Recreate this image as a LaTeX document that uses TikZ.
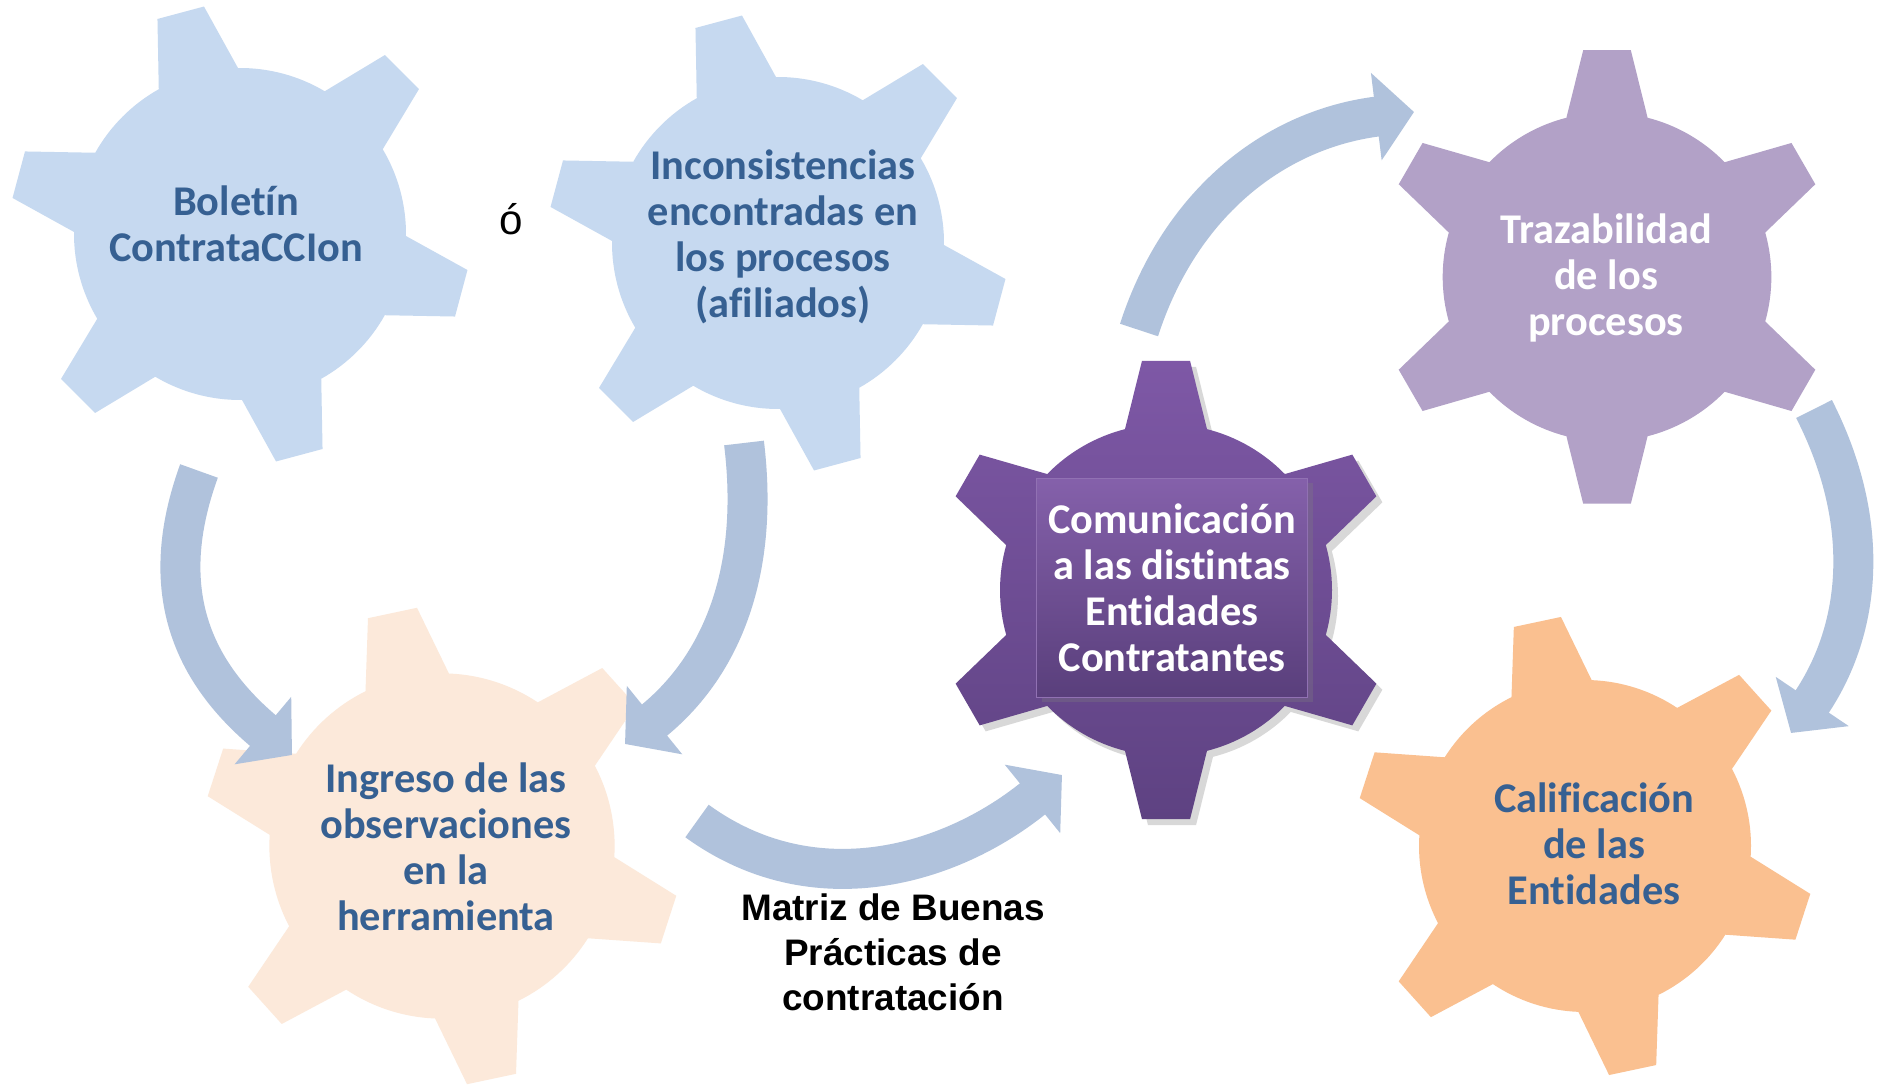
\documentclass[tikz,border=0pt]{standalone}
\usepackage{fontspec}
\setmainfont{Carlito}[Ligatures=NoCommon]
\newfontfamily\arialfont{Liberation Sans}
\usepackage{tikz}
\usetikzlibrary{arrows.meta,shadows}

\definecolor{cogblue}{RGB}{198,217,240}
\definecolor{cogpeach}{RGB}{252,233,218}
\definecolor{cogorange}{RGB}{250,192,144}
\definecolor{coglilac}{RGB}{178,161,199}
\definecolor{purpletop}{RGB}{126,88,166}
\definecolor{purplebot}{RGB}{94,66,130}
\definecolor{flowblue}{RGB}{176,194,220}
\definecolor{txtblue}{RGB}{54,96,146}

% gear: center, rotation, scale, path options
\newcommand{\cog}[4]{%
	\begin{scope}[shift={(#1)}, scale=#3]
		\path[#4] ({#2-14.3}:166)
			\foreach \k in {0,...,5} {
				-- ({#2+60*\k-6}:230.3) -- ({#2+60*\k+6}:230.3) -- ({#2+60*\k+14.3}:166)
				arc[start angle={#2+60*\k+14.3}, end angle={#2+60*\k+45.7}, radius=166]
			} -- cycle;
	\end{scope}}

\begin{document}
\begin{tikzpicture}[x=0.1mm, y=0.1mm,
	cogtext/.style={font=\bfseries\fontsize{12.05}{13.1}\selectfont, align=center, text=txtblue, inner sep=0pt},
	flow/.style={draw=flowblue, line width=4mm, -{Triangle[width=8.6mm,length=3.8mm]}}]
	\useasboundingbox[fill=white] (0,0) rectangle (1878,1090);

	% gears
	\cog{240,856}{105}{1}{fill=cogblue}
	\cog{778,847}{105}{1}{fill=cogblue}
	\cog{442,244}{102}{1.04}{fill=cogpeach}
	\cog{1166,500}{90}{1}{top color=purpletop, bottom color=purplebot,
		drop shadow={opacity=.3, shadow xshift=.6mm, shadow yshift=-.6mm}}
	\cog{1607,813}{90}{.99}{fill=coglilac}
	\cog{1585,244}{102}{1}{fill=cogorange}

	% arrow ends
	\coordinate (a1) at (199,619);  \coordinate (a2) at (292,335);
	\coordinate (b1) at (744,647);  \coordinate (b2) at (625,346);
	\coordinate (c1) at (697,269);  \coordinate (c2) at (1062,315);
	\coordinate (d1) at (1139,760); \coordinate (d2) at (1414,978);
	\coordinate (e1) at (1814,681); \coordinate (e2) at (1791,357);

	\draw[flow] (a1) to[out=250, in=140, looseness=1.1] (a2);
	\draw[flow] (b1) to[out=-83, in=39] (b2);
	\draw[flow] (c1) to[out=-36, in=219] (c2);
	\draw[flow] (d1) to[out=72, in=187] (d2);
	\draw[flow] (e1) to[out=-63, in=56] (e2);

	% texts
	\node[cogtext] (boletin) at (236,866) {Boletín\\ContrataCCIon};
	\node[font=\arialfont\fontsize{12}{13}\selectfont, inner sep=0pt] (or) at (511,871) {ó};
	\node[cogtext] (inconsist) at (783,853) {Inconsistencias\\encontradas en\\los procesos\\(afiliados)};
	\node[cogtext] (ingreso) at (446,243) {Ingreso de las\\observaciones\\en la\\herramienta};
	\node[cogtext, text=white, draw=purpletop!85!white, thin, top color=purpletop!95!white,
		bottom color=purplebot!95!black, minimum width=27.1mm, minimum height=21.9mm,
		drop shadow={opacity=.3, shadow xshift=.5mm, shadow yshift=-.5mm}] (comunic) at (1172,502)
		{Comunicación\\a las distintas\\Entidades\\Contratantes};
	\node[cogtext, text=white] (trazab) at (1606,812) {Trazabilidad\\de los\\procesos};
	\node[cogtext] (calif) at (1594,246) {Calificación\\de las\\Entidades};
	\node[font=\arialfont\bfseries\fontsize{10.5}{12.8}\selectfont, align=center, inner sep=0pt] (matriz) at (893,138)
		{Matriz de Buenas\\Prácticas de\\contratación};
\end{tikzpicture}
\end{document}
